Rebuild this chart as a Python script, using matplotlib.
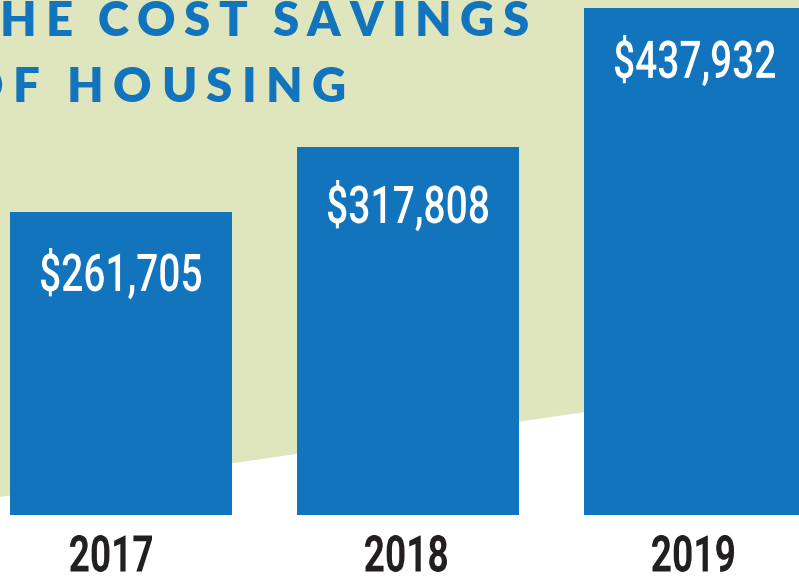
import matplotlib
matplotlib.use("Agg")
import matplotlib.pyplot as plt
from matplotlib.patches import Polygon, PathPatch
from matplotlib.textpath import TextPath
from matplotlib.font_manager import FontProperties
from matplotlib.transforms import Affine2D, IdentityTransform

years = ["2017", "2018", "2019"]
savings = [261705, 317808, 437932]
title_lines = ["THE COST SAVINGS", "OF HOUSING"]

BLUE = "#1174bc"
GREEN = "#dfe6bd"
DARK = "#231f20"
W, H = 799, 577

fig = plt.figure(figsize=(W / 100, H / 100), dpi=100)
fig.patch.set_facecolor("white")
ax = fig.add_axes([0, 0, 1, 1])
ax.set_axis_off()

# green backdrop, slanted lower edge
bg = Polygon([(0, 1), (1, 1), (1, 1 - 381 / H), (0, 1 - 497 / H)],
             closed=True, transform=ax.transAxes, facecolor=GREEN,
             edgecolor="none", zorder=0)
ax.add_patch(bg)

x = range(len(years))
ax.bar(x, savings, width=0.7735, color=BLUE, zorder=2)
ax.set_xlim(-121 / 287, (W - 121) / 287)
ax.set_ylim(-62 / 0.001158, 515 / 0.001158)


def condensed(s, cx, cy, height, width, color, weight):
    # squeeze text horizontally (no condensed font installed)
    fp = FontProperties(family="Roboto", weight=weight)
    p = TextPath((0, 0), s, size=100, prop=fp)
    ref = TextPath((0, 0), "0", size=100, prop=fp).get_extents()
    ext = p.get_extents()
    sx = width / ext.width
    sy = height / ref.height
    tr = (Affine2D().translate(-(ext.x0 + ext.x1) / 2, -ref.height / 2)
          .scale(sx, sy).translate(cx, cy))
    patch = PathPatch(tr.transform_path(p), facecolor=color, edgecolor="none",
                      transform=IdentityTransform(), zorder=5)
    fig.add_artist(patch)


label_drop = [60, 57, 51]
year_shift = [-10, -2, -2]
for i, v in enumerate(savings):
    px, py = ax.transData.transform((i, v))
    condensed("${:,}".format(v), px, py - label_drop[i], 38, 160, "white",
              "medium")
    bx, by = ax.transData.transform((i, 0))
    condensed(years[i], bx + year_shift[i], by - 38, 37, 82, DARK, "bold")

# title: wide letter spacing, one letter at a time
fig.canvas.draw()
renderer = fig.canvas.get_renderer()


def tracked(text, first_left, right, baseline, size):
    fp = FontProperties(family="Lato", weight="heavy", size=size)
    widths = []
    for ch in text:
        if ch == " ":
            widths.append(size * 0.22)
        else:
            t = fig.text(0, 0, ch, fontproperties=fp)
            widths.append(t.get_window_extent(renderer).width)
            t.remove()
    # gap so that letter 1 starts at first_left and the last ends at right
    gap = (right - first_left - sum(widths[1:])) / (len(text) - 2)
    xpos = first_left - gap - widths[0]
    for ch, w in zip(text, widths):
        if ch != " ":
            fig.text(xpos / W, 1 - baseline / H, ch, fontproperties=fp,
                     color=BLUE, ha="left", va="baseline", zorder=4)
        xpos += w + gap


tracked(title_lines[0], 0, 529, 36, 34)
tracked(title_lines[1], 13, 346, 102, 34)

fig.savefig("out.png", dpi=100)
